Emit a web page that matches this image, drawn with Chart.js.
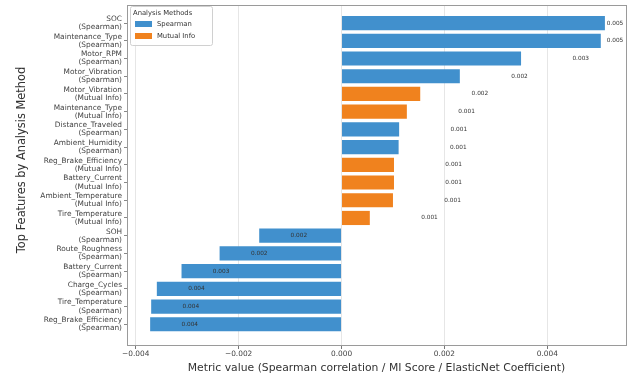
<!DOCTYPE html>
<html>
<head>
<meta charset="utf-8">
<script src="https://cdn.jsdelivr.net/npm/chart.js@4/dist/chart.umd.min.js"></script>
<style>
  html, body { margin: 0; padding: 0; background: #ffffff; }
  #wrap { width: 636px; height: 386px; }
</style>
</head>
<body>
<div id="wrap"><canvas id="c" width="636" height="386"></canvas></div>
<script>
// Top features ranked by metric value, one bar per feature/method pair
const features = ['SOC', 'Maintenance_Type', 'Motor_RPM', 'Motor_Vibration', 'Motor_Vibration',
  'Maintenance_Type', 'Distance_Traveled', 'Ambient_Humidity', 'Reg_Brake_Efficiency',
  'Battery_Current', 'Ambient_Temperature', 'Tire_Temperature', 'SOH', 'Route_Roughness',
  'Battery_Current', 'Charge_Cycles', 'Tire_Temperature', 'Reg_Brake_Efficiency'];
const methods = ['Spearman', 'Spearman', 'Spearman', 'Spearman', 'Mutual Info',
  'Mutual Info', 'Spearman', 'Spearman', 'Mutual Info',
  'Mutual Info', 'Mutual Info', 'Mutual Info', 'Spearman', 'Spearman',
  'Spearman', 'Spearman', 'Spearman', 'Spearman'];
const values = [0.00512, 0.00504, 0.00349, 0.00230, 0.00153,
  0.00127, 0.00112, 0.00111, 0.00102,
  0.00102, 0.00100, 0.00055, -0.00160, -0.00237,
  -0.00311, -0.00359, -0.00370, -0.00372];

const methodNames = ['Spearman', 'Mutual Info'];
const methodColors = { 'Spearman': '#4190cd', 'Mutual Info': '#f0821e' };

const xTicks = [-0.004, -0.002, 0, 0.002, 0.004];
const xTickLabels = ['\u22120.004', '\u22120.002', '0.000', '0.002', '0.004'];

const yTitle = 'Top Features by Analysis Method';

const FONT = "'DejaVu Sans', sans-serif";

// Frame around the plotting area
const framePlugin = {
  id: 'frame',
  afterDraw(chart) {
    const { ctx, chartArea: a } = chart;
    ctx.save();
    ctx.strokeStyle = '#9a9a9a';
    ctx.lineWidth = 1;
    ctx.strokeRect(Math.round(a.left) + 0.5, Math.round(a.top) + 0.5,
      Math.round(a.right - a.left), Math.round(a.bottom - a.top));
    ctx.restore();
  }
};

// Rotated title for the feature axis
const yTitlePlugin = {
  id: 'yTitle',
  afterDraw(chart) {
    const { ctx } = chart;
    ctx.save();
    ctx.translate(22, 160);
    ctx.rotate(-Math.PI / 2);
    ctx.font = '11.4px ' + FONT;
    ctx.fillStyle = '#333333';
    ctx.textAlign = 'center';
    ctx.textBaseline = 'middle';
    ctx.fillText(yTitle, 0, 0);
    ctx.restore();
  }
};

// Value annotations: beside positive bars, inside negative bars
const valueLabelPlugin = {
  id: 'valueLabels',
  afterDatasetsDraw(chart) {
    const { ctx, chartArea: a } = chart;
    const xs = chart.scales.x, ys = chart.scales.y;
    ctx.save();
    ctx.font = '5.8px ' + FONT;
    ctx.fillStyle = '#333333';
    ctx.textAlign = 'center';
    ctx.textBaseline = 'middle';
    values.forEach((v, i) => {
      const y = ys.getPixelForValue(i);
      let x;
      if (v >= 0) {
        x = Math.min(xs.getPixelForValue(v + 0.00116), a.right - 11);
      } else {
        x = xs.getPixelForValue(v + 0.00077);
      }
      ctx.fillText(Math.abs(v).toFixed(3), x, y);
    });
    ctx.restore();
  }
};

// Legend box in the upper left corner of the plot
const legendPlugin = {
  id: 'boxLegend',
  afterDraw(chart) {
    const { ctx, chartArea: a } = chart;
    const x0 = a.left + 3, y0 = a.top + 1, w = 82, h = 39;
    ctx.save();
    ctx.fillStyle = 'rgba(255,255,255,0.85)';
    ctx.strokeStyle = '#d0d0d0';
    ctx.lineWidth = 1;
    ctx.beginPath();
    ctx.roundRect(x0 + 0.5, y0 + 0.5, w, h, 2);
    ctx.fill();
    ctx.stroke();
    ctx.fillStyle = '#333333';
    ctx.font = '6.8px ' + FONT;
    ctx.textBaseline = 'middle';
    ctx.textAlign = 'left';
    ctx.fillText('Analysis Methods', x0 + 3, y0 + 7);
    methodNames.forEach((m, k) => {
      const yy = y0 + 18 + k * 12;
      ctx.fillStyle = methodColors[m];
      ctx.fillRect(x0 + 5, yy - 3, 17, 6);
      ctx.fillStyle = '#333333';
      ctx.fillText(m, x0 + 27, yy);
    });
    ctx.restore();
  }
};

new Chart(document.getElementById('c'), {
  type: 'bar',
  data: {
    datasets: [{
      label: 'Metric value',
      data: values.map((v, i) => ({ x: v, y: i })),
      backgroundColor: methods.map(m => methodColors[m]),
      borderWidth: 0,
      barPercentage: 0.8,
      categoryPercentage: 1.0
    }]
  },
  options: {
    indexAxis: 'y',
    responsive: false,
    animation: false,
    events: [],
    layout: { padding: { left: 0, right: 10, top: 5, bottom: 0 }, autoPadding: false },
    plugins: { legend: { display: false }, tooltip: { enabled: false } },
    scales: {
      x: {
        type: 'linear',
        min: -0.00417,
        max: 0.00553,
        offset: false,
        afterBuildTicks(axis) { axis.ticks = xTicks.map(v => ({ value: v })); },
        afterFit(axis) { axis.height = 41; axis.paddingLeft = 0; axis.paddingRight = 0; },
        border: { display: false },
        grid: { offset: false, color: '#e6e6e6', lineWidth: 1, tickLength: 4, tickColor: '#777777' },
        ticks: {
          font: { family: FONT, size: 7.4 },
          color: '#444444',
          padding: 1,
          maxRotation: 0,
          autoSkip: false,
          callback(v) {
            const k = xTicks.findIndex(t => Math.abs(t - v) < 1e-9);
            return k >= 0 ? xTickLabels[k] : '';
          }
        },
        title: {
          display: true,
          text: 'Metric value (Spearman correlation / MI Score / ElasticNet Coefficient)',
          font: { family: FONT, size: 10.8 },
          color: '#333333',
          padding: { top: 0, bottom: 11 }
        }
      },
      y: {
        type: 'linear',
        reverse: true,
        min: -1.02,
        max: 18.17,
        offset: false,
        afterBuildTicks(axis) { axis.ticks = features.map((_, i) => ({ value: i })); },
        afterFit(axis) { axis.width = 127; axis.paddingTop = 0; axis.paddingBottom = 0; },
        border: { display: false },
        grid: { offset: false, drawOnChartArea: false, tickLength: 3, tickColor: '#888888' },
        ticks: {
          font: { family: FONT, size: 7.4, lineHeight: 1.1 },
          color: '#444444',
          padding: 2,
          autoSkip: false,
          callback(v) {
            return [features[v], '(' + methods[v] + ')'];
          }
        },
        title: { display: false }
      }
    }
  },
  plugins: [framePlugin, valueLabelPlugin, legendPlugin, yTitlePlugin]
});
</script>
</body>
</html>
